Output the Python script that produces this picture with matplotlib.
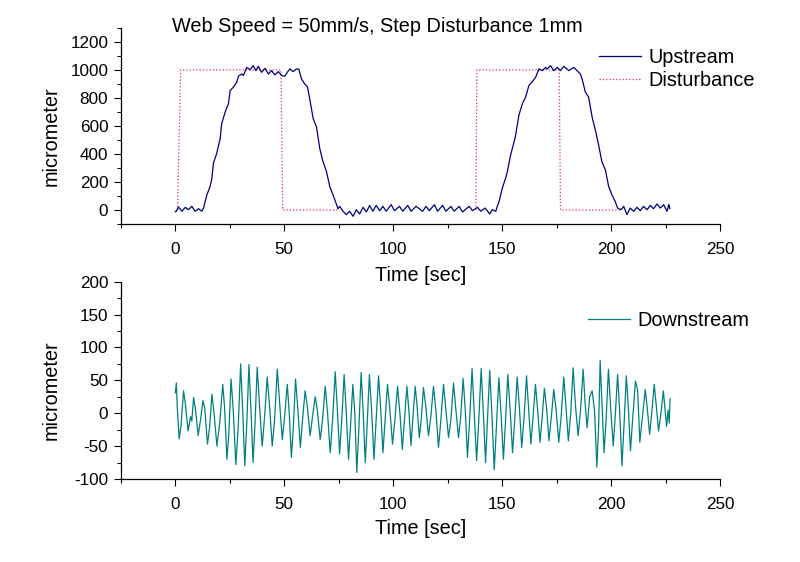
import numpy as np
import matplotlib
matplotlib.use("Agg")
import matplotlib.pyplot as plt
from matplotlib.ticker import MultipleLocator

plt.rcParams['font.family'] = ['Liberation Sans', 'DejaVu Sans']
plt.rcParams['axes.unicode_minus'] = False

# upstream sensor (micrometer) vs time (s)
up_t = [0.0, 0.5, 1.5, 3.0, 4.6, 6.1, 7.6, 9.1, 10.7, 12.2, 13.0, 13.7, 14.5, 16.0, 16.8,
        17.5, 19.0, 20.6, 21.3, 22.9, 24.4, 25.2, 26.7, 28.2, 29.0, 30.5, 31.3, 32.8, 34.3,
        35.8, 37.0, 38.1, 39.6, 41.2, 42.7, 44.2, 45.7, 47.3, 48.8, 50.3, 51.5, 52.6, 54.1,
        55.6, 56.7, 57.9, 59.4, 60.7, 61.7, 63.3, 64.8, 66.3, 67.8, 69.4, 70.9, 72.4, 74.0,
        74.7, 75.5, 77.0, 78.5, 80.0, 81.6, 83.1, 84.6, 86.2, 87.7, 89.2, 90.7, 92.2, 93.8,
        95.3, 96.8, 99.1, 100.6, 102.9, 104.4, 106.7, 108.2, 110.5, 112.0, 113.5, 115.1,
        116.6, 118.9, 120.4, 122.7, 124.2, 126.5, 128.0, 130.3, 131.8, 134.9, 136.4, 138.7,
        140.2, 142.2, 144.3, 145.5, 147.1, 147.8, 148.6, 150.1, 151.6, 152.4, 153.9, 155.5,
        156.2, 157.7, 159.3, 160.8, 162.3, 163.9, 165.4, 166.9, 168.5, 170.0, 170.7, 172.2,
        173.7, 175.3, 176.8, 178.3, 180.6, 182.9, 184.4, 185.9, 186.7, 188.2, 189.7, 191.3,
        192.8, 194.3, 195.8, 197.4, 198.9, 200.4, 201.9, 203.0, 204.6, 205.8, 207.3, 208.8,
        210.4, 211.9, 213.4, 214.9, 216.5, 218.0, 219.5, 221.1, 222.6, 224.1, 225.7, 226.5,
        227.0]
up_v = [-12, -9, 22, -9, 19, 2, 26, -9, 9, -9, 14, 61, 108, 168, 227,
        333, 404, 510, 617, 699, 759, 853, 877, 912, 955, 971, 960, 1018, 1002,
        1030, 995, 1026, 983, 1011, 971, 995, 964, 988, 960, 955, 985, 1007, 988,
        1007, 1005, 936, 900, 877, 794, 652, 593, 440, 345, 274, 168, 108, 38,
        9, 26, -9, -33, -9, -45, 2, -28, 19, -14, 33, -9, 33, -5,
        26, -9, 38, -5, 26, -9, 33, -9, 26, 9, -9, 26,
        -5, 38, -9, 33, -9, 26, -9, 26, -14, 26, -5, 19,
        -9, 14, -28, 2, -9, 26, 61, 156, 227, 274, 392, 487,
        534, 676, 759, 806, 889, 917, 948, 1007, 995, 1018, 1007, 1030,
        995, 1018, 995, 1026, 995, 1018, 995, 971, 936, 842, 806, 664,
        570, 463, 345, 286, 168, 108, 61, 14, 2, 26, -33, 14,
        -9, 19, -5, 26, 2, 33, 9, 43, 14, 38, -9, 40,
        10]

# step disturbance (micrometer)
dist_t = [1.0, 2.5, 48.5, 49.3, 75.0, np.nan, 138.0, 138.4, 176.2, 176.8, 205.0]
dist_v = [0, 1000, 1000, 0, 0, np.nan, 0, 1000, 1000, 0, 0]

# downstream sensor (micrometer)
down_t = [0.0, 0.5, 0.9, 1.8, 2.6, 3.8, 4.6, 5.9, 7.0, 7.6, 8.4, 9.3, 10.5, 11.6, 12.7,
          13.5, 14.8, 15.8, 16.8, 17.8, 19.1, 20.4, 21.8, 22.6, 23.7, 24.6, 25.6, 26.6,
          27.8, 28.9, 30.0, 31.0, 31.9, 32.9, 33.8, 34.8, 35.7, 36.6, 37.6, 38.7, 39.9,
          41.0, 42.2, 43.4, 44.5, 45.6, 46.8, 47.9, 49.1, 50.2, 51.4, 52.3, 53.3, 54.2,
          55.2, 56.3, 57.4, 58.4, 59.6, 60.6, 61.9, 63.0, 64.2, 65.2, 66.5, 67.6, 68.8,
          69.9, 71.1, 72.2, 73.4, 74.4, 75.4, 76.4, 77.5, 78.5, 79.5, 80.5, 81.5, 82.4,
          83.3, 84.3, 85.3, 86.2, 87.2, 88.1, 89.1, 90.1, 91.2, 92.2, 93.3, 94.3, 95.3,
          96.3, 97.4, 98.5, 99.7, 100.8, 102.0, 103.1, 104.2, 105.2, 106.3, 107.2, 108.2,
          109.1, 110.1, 111.0, 112.0, 113.0, 113.9, 115.0, 116.2, 117.3, 118.5, 119.6,
          120.8, 121.9, 123.1, 124.2, 125.4, 126.5, 127.7, 128.8, 130.0, 131.0, 132.1,
          133.1, 134.1, 135.1, 136.2, 137.2, 138.3, 139.3, 140.4, 141.4, 142.4, 143.3,
          144.3, 145.3, 146.4, 147.4, 148.5, 149.5, 150.6, 151.6, 152.6, 153.7, 154.8,
          155.8, 156.9, 158.0, 159.0, 160.1, 161.2, 162.2, 163.2, 164.2, 165.3, 166.3,
          167.4, 168.4, 169.4, 170.5, 171.5, 172.6, 173.7, 174.8, 176.0, 177.1, 178.3,
          179.3, 180.4, 181.5, 182.6, 183.7, 184.9, 186.0, 187.2, 188.1, 189.0, 190.2,
          191.3, 192.4, 193.5, 194.3, 195.0, 195.9, 196.8, 197.8, 198.8, 199.9, 201.0,
          202.0, 203.0, 204.0, 205.0, 206.0, 207.0, 208.0, 208.9, 210.0, 211.2, 212.2,
          213.2, 214.4, 215.7, 216.7, 217.7, 218.8, 219.8, 220.8, 221.8, 222.9, 224.0,
          224.8, 225.5, 226.2, 226.7, 227.1]
down_v = [31, 46, 10, -39, -20, 34, 15, -27, -5, -12, 24, 5, -34, -10, 19,
          8, -47, -20, 29, 0, -50, -15, 44, 10, -70, -30, 52, 5,
          -78, -20, 75, 0, -80, -10, 74, 0, -75, -15, 70, 10, -50,
          -5, 55, 5, -50, -10, 67, 15, -40, -5, 44, 0, -67, -20,
          52, 5, -52, -10, 34, 10, -34, -5, 25, 5, -40, -10, 41,
          0, -60, -10, 63, 5, -62, -10, 59, 0, -70, -15, 44, 0,
          -90, -20, 62, 5, -75, -15, 59, 5, -70, -10, 57, 5, -60,
          -10, 44, 5, -47, -10, 41, 0, -55, -10, 41, 5, -49,
          -5, 41, 10, -37, -5, 39, 10, -34, -5, 41, 5,
          -52, -10, 44, 5, -37, -10, 46, 5, -37, -5, 53,
          5, -67, -10, 68, 0, -72, -10, 68, 0, -75, -10,
          65, 0, -86, -20, 54, 0, -70, -10, 59, 5, -60,
          -10, 55, 5, -52, -5, 57, 5, -47, -5, 44, 5,
          -44, -5, 38, 5, -42, -5, 36, 5, -44, -5, 55,
          10, -42, 0, 69, 10, -34, 5, 67, 15, -22, 25,
          34, 5, -82, -20, 80, 10, -60, -5, 67, 5, -50,
          0, 59, 0, -80, -15, 57, 5, -57, -5, 49, 35,
          -44, -5, 36, 5, -32, 5, 44, 10, -27, 0, 34,
          5, -20, 5, -15, 22]

NAVY = "#000080"
RED = "#d8306a"
TEAL = "#008080"

fig = plt.figure(figsize=(8.0, 5.62), dpi=100)
ax1 = fig.add_axes([0.151, 0.6014, 0.749, 0.349])
ax2 = fig.add_axes([0.151, 0.1477, 0.749, 0.351])

ax1.plot(dist_t, dist_v, color=RED, lw=0.9, ls=":", label="Disturbance", zorder=2)
ax1.plot(up_t, up_v, color=NAVY, lw=0.9, label="Upstream", zorder=3)
ax2.plot(down_t, down_v, color=TEAL, lw=0.9, label="Downstream")

for ax in (ax1, ax2):
    ax.patch.set_visible(False)
    ax.set_xlim(-25, 250)
    ax.xaxis.set_major_locator(MultipleLocator(50))
    ax.xaxis.set_minor_locator(MultipleLocator(25))
    for side in ("top", "right"):
        ax.spines[side].set_visible(False)
    for side in ("left", "bottom"):
        ax.spines[side].set_linewidth(0.9)
    ax.tick_params(which="major", direction="out", length=5, width=0.8, labelsize=12.3)
    ax.tick_params(which="minor", direction="out", length=3, width=0.8)
    ax.tick_params(axis="x", which="major", pad=8)
    ax.tick_params(axis="y", which="major", pad=4)
    ax.set_xlabel("Time [sec]", fontsize=14.3)
    ax.set_ylabel("micrometer", fontsize=14.3)
    ax.yaxis.set_label_coords(-0.101, 0.45)

ax1.xaxis.set_label_coords(0.5, -0.212)
ax2.xaxis.set_label_coords(0.5, -0.203)

ax1.set_ylim(-100, 1300)
ax1.yaxis.set_major_locator(MultipleLocator(200))
ax1.yaxis.set_minor_locator(MultipleLocator(100))
ax2.set_ylim(-100, 200)
ax2.yaxis.set_major_locator(MultipleLocator(50))
ax2.yaxis.set_minor_locator(MultipleLocator(25))

h, l = ax1.get_legend_handles_labels()
ax1.legend(h[::-1], l[::-1], loc="upper left", bbox_to_anchor=(599 / 800, 1 - 48 / 562),
           bbox_transform=fig.transFigure, frameon=False, fontsize=14.3,
           handlelength=2.1, handletextpad=0.4, borderpad=0, borderaxespad=0,
           labelspacing=0.2)
ax2.legend(loc="upper left", bbox_to_anchor=(588 / 800, 1 - 311 / 562),
           bbox_transform=fig.transFigure, frameon=False, fontsize=14.3,
           handlelength=2.1, handletextpad=0.4, borderpad=0, borderaxespad=0)

fig.text(377 / 800, 1 - 26 / 562, "Web Speed = 50mm/s, Step Disturbance 1mm",
         ha="center", va="center", fontsize=14.3)

fig.savefig("out.png", dpi=100, facecolor="white")
